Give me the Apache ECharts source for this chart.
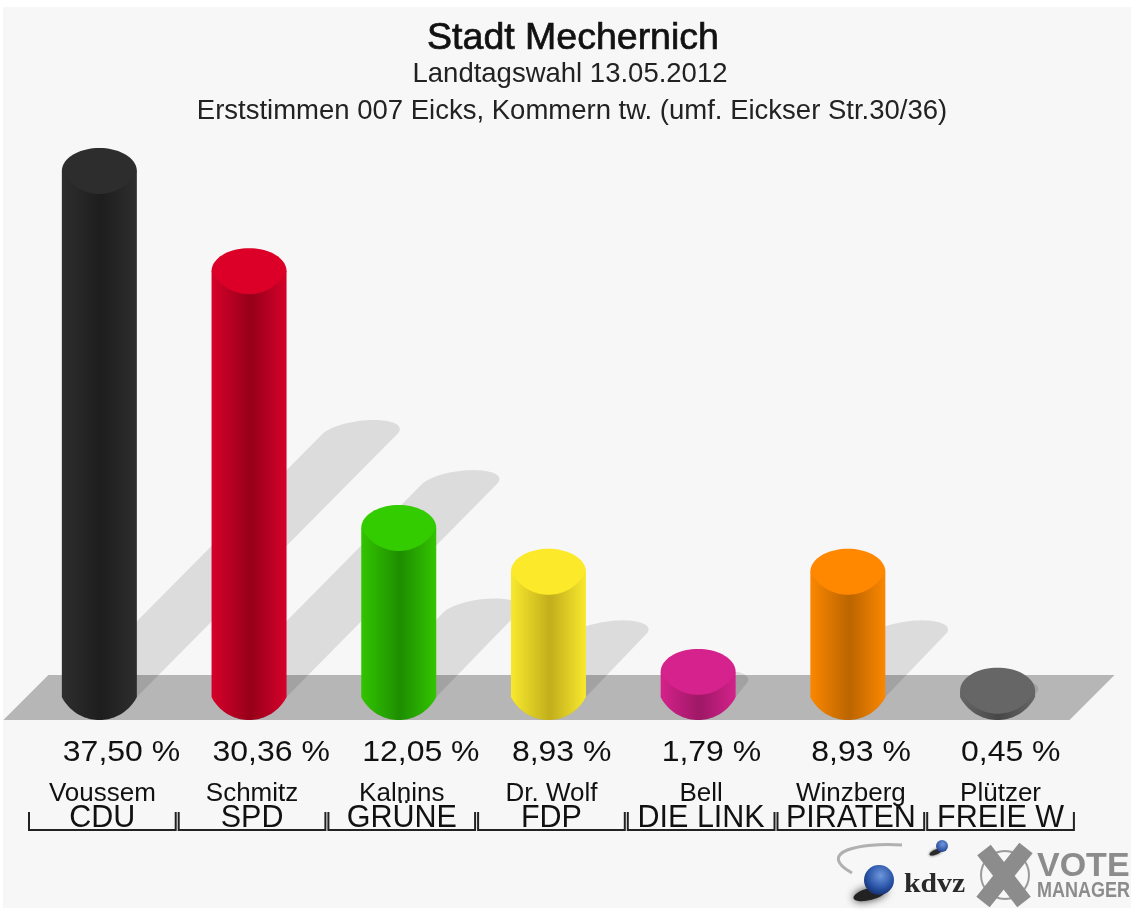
<!DOCTYPE html>
<html><head><meta charset="utf-8">
<style>html,body{margin:0;padding:0;background:#fff}#c{width:1131px;height:911px}</style>
<script src="https://cdn.jsdelivr.net/npm/echarts@6/dist/echarts.min.js"></script>
</head><body><div id="c"></div>
<script>
const candidates = ['Voussem','Schmitz','Kalnins','Dr. Wolf','Bell','Winzberg','Plützer'];
const parties = ['CDU','SPD','GRÜNE','FDP','DIE LINK','PIRATEN','FREIE W'];
const values = [37.50,30.36,12.05,8.93,1.79,8.93,0.45];
const percentLabels = ['37,50 %','30,36 %','12,05 %','8,93 %','1,79 %','8,93 %','0,45 %'];
const topColors = ['#2d2d2d','#dc0028','#33cc00','#fce92a','#d6228c','#ff8800','#666666'];
const edgeColors = ['#2e2e2e','#d6002a','#33c400','#f8e92e','#d4228a','#fb8700','#666666'];
const midColors = ['#1e1e1e','#98001a','#1e9000','#c4b01c','#a01868','#bd6600','#484848'];

const FONT = '"Liberation Sans", Arial, Helvetica, sans-serif';
const RX = 37.5, RY = 23, SHADOW_RY = 14;

function ellipseArc(cx, cy, a0, a1, ry, shear) {
  const pts = [];
  for (let i = 0; i <= 36; i++) {
    const a = a0 + (a1 - a0) * i / 36;
    pts.push([cx + RX * Math.cos(a) - (shear || 0) * ry * Math.sin(a), cy + ry * Math.sin(a)]);
  }
  return pts;
}
// lower edge: a circular arc that meets the sides at a corner
function lowerArc(cx, cy) {
  const R = (RX * RX + RY * RY) / (2 * RY);
  const pts = [];
  for (let i = 0; i <= 36; i++) {
    const x = RX - 2 * RX * i / 36;
    pts.push([cx + x, cy + RY - R + Math.sqrt(R * R - x * x)]);
  }
  return pts;
}

function renderCyl(params, api) {
  const i = api.value(0);
  const base = api.coord([i, 0]);
  const top = api.coord([i, api.value(1)]);
  const cx = base[0];
  const side = [[cx - RX, top[1]], [cx + RX, top[1]]].concat(lowerArc(cx, base[1]));
  const cap = ellipseArc(cx, top[1], Math.PI, 2 * Math.PI, RY).concat(lowerArc(cx, top[1]));
  return { type: 'group', children: [
    { type: 'polygon', shape: { points: side }, style: { fill: new echarts.graphic.LinearGradient(0,0,1,0,[
      {offset:0,color:edgeColors[i]},{offset:0.5,color:midColors[i]},{offset:0.54,color:midColors[i]},{offset:1,color:edgeColors[i]}]) } },
    { type: 'polygon', shape: { points: cap }, style: { fill: topColors[i] } }
  ]};
}

function renderShadow(params, api) {
  const i = api.value(0);
  const base = api.coord([i, 0]);
  const top = api.coord([i, api.value(1)]);
  const h = base[1] - top[1];
  const cx = base[0];
  const pts = ellipseArc(cx + h / 2 - 2.5, base[1] - h / 2, Math.PI, 2 * Math.PI, SHADOW_RY, 1)
    .concat(lowerArc(cx, base[1]));
  return { type: 'polygon', shape: { points: pts }, style: { fill: 'rgba(0,0,0,0.105)' } };
}

function renderFloor(params, api) {
  const first = api.coord([0, 0]);
  const last = api.coord([candidates.length - 1, 0]);
  const yb = first[1] + 23, yt = first[1] - 22;
  return { type: 'polygon', shape: { points: [[first[0]-96,yb],[first[0]-51,yt],[last[0]+117,yt],[last[0]+72,yb]] }, style: { fill: '#b6b6b6' } };
}

function renderBracket(params, api) {
  const i = api.value(0);
  const c = api.coord([i, 0]);
  const half = api.size([1, 0])[0] / 2;
  const l = c[0] - half + 1.5, r = c[0] + half - 1.5;
  return { type: 'polyline', shape: { points: [[l, 812], [l, 830], [r, 830], [r, 812]] },
    style: { fill: 'none', stroke: '#222', lineWidth: 2 } };
}

function renderPercent(params, api) {
  const i = api.value(0);
  const c = api.coord([i, 0]);
  return { type: 'text', x: c[0] - RX + 1, y: 753, scaleX: 1.065, style: { x: 0, y: 0, text: percentLabels[i], fill: '#111',
    font: '30px ' + FONT, textAlign: 'left', textVerticalAlign: 'middle' } };
}

const idx = values.map((v, i) => [i, v]);
const chart = echarts.init(document.getElementById('c'), null, { renderer: 'canvas' });
const logoGrey = '#8c8c8c';
chart.setOption({
  animation: false,
  backgroundColor: '#ffffff',
  title: [
    { text: 'Stadt Mechernich', left: 568, top: 14.5, textAlign: 'center', textStyle: { fontFamily: FONT, fontWeight: 'normal', fontSize: 37.5, color: '#111', textBorderColor: '#111', textBorderWidth: 0.7 } },
    { text: 'Landtagswahl 13.05.2012', left: 565, top: 55, textAlign: 'center', textStyle: { fontFamily: FONT, fontWeight: 'normal', fontSize: 27.5, color: '#222' } },
    { text: 'Erststimmen 007 Eicks, Kommern tw. (umf. Eickser Str.30/36)', left: 567, top: 92, textAlign: 'center', textStyle: { fontFamily: FONT, fontWeight: 'normal', fontSize: 27.5, color: '#222' } }
  ],
  grid: [
    { left: 24.5, width: 1047.9, top: 171, height: 526 },
    { left: 27.5, width: 1047.9, top: 171, height: 526 }
  ],
  xAxis: [
    { type: 'category', gridIndex: 0, data: candidates, axisLine: {show:false}, axisTick: {show:false}, axisLabel: {show:false} },
    { type: 'category', gridIndex: 1, position: 'bottom', offset: 84, data: candidates, axisLine: {show:false}, axisTick: {show:false},
      axisLabel: { interval: 0, margin: 0, fontFamily: FONT, fontSize: 26, color: '#111', verticalAlign: 'top' } },
    { type: 'category', gridIndex: 1, position: 'bottom', offset: 106, data: parties, axisLine: {show:false}, axisTick: {show:false},
      axisLabel: { interval: 0, margin: 0, fontFamily: FONT, fontSize: 30.5, color: '#111', verticalAlign: 'top' } }
  ],
  yAxis: [
    { type: 'value', gridIndex: 0, min: 0, max: 37.5, show: false },
    { type: 'value', gridIndex: 1, min: 0, max: 37.5, show: false }
  ],
  series: [
    { type: 'custom', name: 'floor', z: 1, xAxisIndex: 0, yAxisIndex: 0, data: [[0, 0]], renderItem: renderFloor, silent: true },
    { type: 'custom', name: 'shadow', z: 2, xAxisIndex: 0, yAxisIndex: 0, data: idx, renderItem: renderShadow, silent: true, encode: {x:0,y:1} },
    { type: 'custom', name: 'Erststimmen', z: 3, xAxisIndex: 0, yAxisIndex: 0, data: idx, renderItem: renderCyl, encode: {x:0,y:1} },
    { type: 'custom', name: 'percent', z: 4, xAxisIndex: 0, yAxisIndex: 0, data: idx, renderItem: renderPercent, silent: true, encode: {x:0,y:1} },
    { type: 'custom', name: 'bracket', z: 4, xAxisIndex: 1, yAxisIndex: 1, data: idx, renderItem: renderBracket, silent: true, encode: {x:0,y:1} }
  ],
  graphic: [
    { type: 'rect', z: -10, silent: true, shape: { x: 3, y: 7, width: 1128, height: 901 }, style: { fill: '#f7f7f7' } },
    // kdvz logo
    { type: 'bezierCurve', silent: true, shape: { x1: 902, y1: 845, cpx1: 860, cpy1: 842, cpx2: 815, cpy2: 852, x2: 852, y2: 873 }, style: { fill: 'none', stroke: '#b0b0b0', lineWidth: 3 } },
    { type: 'ellipse', silent: true, shape: { cx: 870, cy: 894, rx: 17, ry: 6 }, rotation: 0.25, originX: 870, originY: 894, style: { fill: '#222', shadowBlur: 8, shadowColor: '#333' } },
    { type: 'circle', silent: true, shape: { cx: 879, cy: 880, r: 15 }, style: { fill: new echarts.graphic.RadialGradient(0.55,0.35,0.7,[{offset:0,color:'#6f97dc'},{offset:0.6,color:'#2a55a8'},{offset:1,color:'#122a66'}]) } },
    { type: 'ellipse', silent: true, shape: { cx: 936, cy: 852, rx: 7, ry: 2.5 }, rotation: 0.4, originX: 936, originY: 852, style: { fill: '#2a2a2a', shadowBlur: 3, shadowColor: '#444' } },
    { type: 'circle', silent: true, shape: { cx: 942, cy: 846, r: 6 }, style: { fill: new echarts.graphic.RadialGradient(0.55,0.35,0.7,[{offset:0,color:'#6f97dc'},{offset:1,color:'#1c3f8e'}]) } },
    { type: 'text', silent: true, x: 904, y: 885, scaleX: 1.1, style: { x: 0, y: 0, text: 'kdvz', fill: '#2a2a2a', font: 'bold 27px "Liberation Serif", serif', textAlign: 'left', textVerticalAlign: 'middle' } },
    // vote manager logo
    { type: 'circle', silent: true, shape: { cx: 1005, cy: 875, r: 24 }, style: { fill: 'none', stroke: '#9a9a9a', lineWidth: 2 } },
    { type: 'line', silent: true, shape: { x1: 984, y1: 850, x2: 1024, y2: 902 }, style: { stroke: logoGrey, lineWidth: 17 } },
    { type: 'line', silent: true, shape: { x1: 1026, y1: 848, x2: 983, y2: 902 }, style: { stroke: logoGrey, lineWidth: 17 } },
    { type: 'text', silent: true, style: { x: 1037, y: 867, text: 'VOTE', fill: logoGrey, font: 'bold 34px ' + FONT, textAlign: 'left', textVerticalAlign: 'middle' } },
    { type: 'text', silent: true, x: 1037, y: 891, scaleY: 1.2, style: { x: 0, y: 0, text: 'MANAGER', fill: logoGrey, font: 'bold 18px ' + FONT, textAlign: 'left', textVerticalAlign: 'middle' } }
  ]
});
</script></body></html>
